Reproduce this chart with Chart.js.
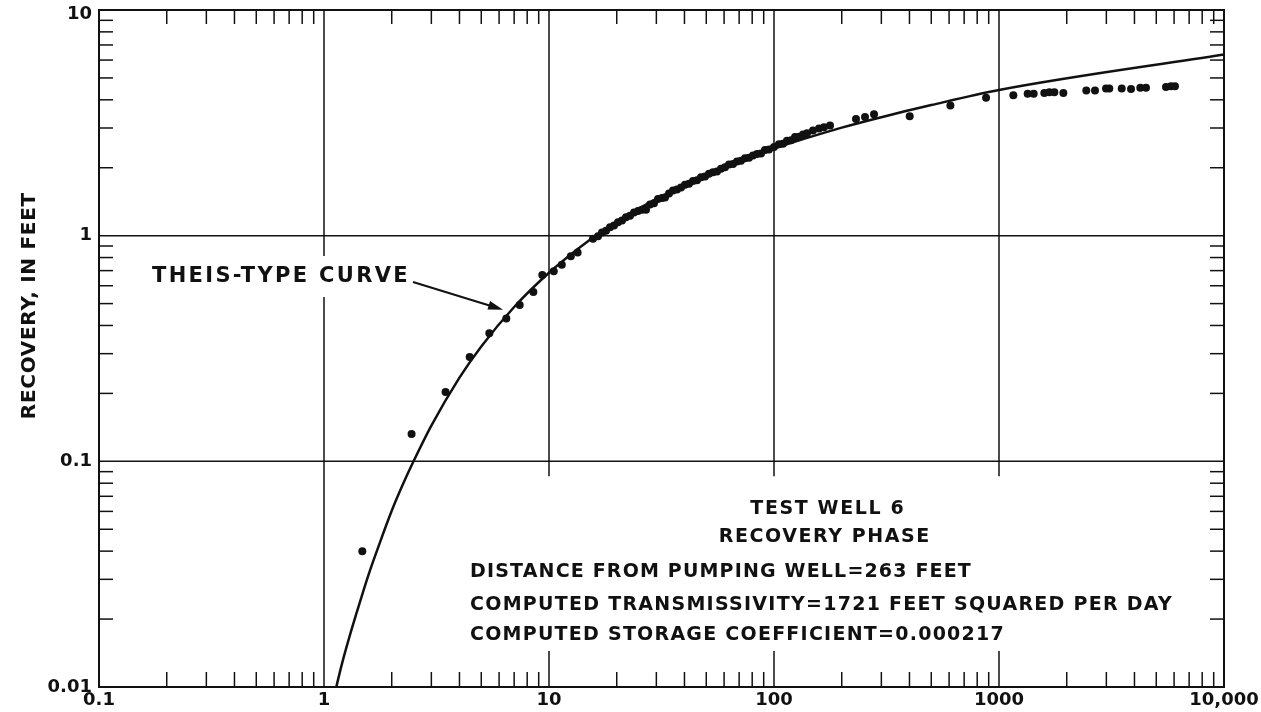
<!DOCTYPE html>
<html lang="en">
<head>
<meta charset="UTF-8">
<title>Test well 6 - recovery phase</title>
<style>
  html, body { margin: 0; padding: 0; background: #fff; }
  #chart { display: block; }
</style>
<script src="https://cdn.jsdelivr.net/npm/chart.js"></script>
</head>
<body>
<canvas id="chart" width="1261" height="712"></canvas>
<script>
// axis labels
const xTicks = [0.1, 1, 10, 100, 1000, 10000];
const xTickLabels = ['0.1', '1', '10', '100', '1000', '10,000'];
const yTicks = [0.01, 0.1, 1, 10];
const yTickLabels = ['0.01', '0.1', '1', '10'];

// Theis-type curve
const curveX = [1.1, 1.2, 1.3, 1.4, 1.5, 1.6, 1.75, 2.0, 2.25, 2.5, 3.0, 4.0, 5.0, 7.0, 10, 15, 20, 30, 50, 70, 100, 200, 300, 500, 1000, 10000];
const curveY = [0.0088, 0.0126, 0.0168, 0.0215, 0.0269, 0.0328, 0.0422, 0.0604, 0.0797, 0.100, 0.144, 0.235, 0.323, 0.483, 0.685, 0.95, 1.153, 1.455, 1.856, 2.13, 2.43, 3.01, 3.35, 3.79, 4.42, 6.35];

// measured recovery (time, recovery in feet)
const obsX = [1.48, 2.45, 3.47, 4.44, 5.43, 6.46, 7.41, 8.52, 9.34, 10.5, 11.4, 12.5, 13.4,
  15.69, 16.51, 17.20, 17.92, 18.67, 19.45, 20.26, 21.11, 21.99, 22.91, 23.87, 24.87, 25.90, 26.99,
  28.12, 29.29, 30.51, 31.78, 32.78, 34.15, 35.57, 37.06, 38.61, 40.22, 41.90, 43.65, 45.48, 47.37,
  49.35, 51.41, 53.56, 55.80, 58.13, 60.55, 63.10, 65.73, 68.47, 71.33, 74.31, 77.42, 80.65, 84.02,
  87.53, 91.20, 95.0, 100, 105.2, 109.6, 114.2, 119.0, 124.0, 129.2, 134.6, 140.2, 149.0, 158.5,
  166.8, 177.4, 231.4, 253.8, 278.3,
  401, 608, 876, 1158, 1341, 1426, 1590, 1673, 1762, 1932, 2443, 2671, 2990, 3092, 3511, 3862,
  4246, 4501, 5524, 5813, 6056];
const obsY = [0.040, 0.132, 0.203, 0.290, 0.369, 0.430, 0.493, 0.563, 0.670, 0.695, 0.743, 0.810, 0.843,
  0.969, 0.994, 1.033, 1.051, 1.090, 1.108, 1.148, 1.166, 1.208, 1.225, 1.268, 1.286, 1.302, 1.304,
  1.376, 1.392, 1.452, 1.468, 1.476, 1.538, 1.586, 1.602, 1.634, 1.683, 1.698, 1.748, 1.762, 1.813,
  1.827, 1.879, 1.912, 1.926, 1.978, 2.011, 2.065, 2.078, 2.133, 2.145, 2.201, 2.213, 2.268, 2.303,
  2.314, 2.395, 2.406, 2.474, 2.541, 2.552, 2.637, 2.647, 2.735, 2.745, 2.808, 2.843, 2.925, 2.981,
  3.026, 3.081, 3.289, 3.355, 3.453,
  3.38, 3.77, 4.08, 4.19, 4.25, 4.25, 4.29, 4.32, 4.32, 4.29, 4.40, 4.40, 4.49, 4.49, 4.49, 4.47,
  4.52, 4.52, 4.56, 4.59, 4.59];

const FONT = '"DejaVu Sans", "Liberation Sans", Arial, sans-serif';
const INK = '#111';

function seg(ctx, x1, y1, x2, y2) {
  ctx.beginPath(); ctx.moveTo(x1, y1); ctx.lineTo(x2, y2); ctx.stroke();
}

// bold text, spaced out to a given width when asked
function txt(ctx, s, x, y, size, align, width) {
  ctx.font = 'bold ' + size + 'px ' + FONT;
  ctx.letterSpacing = '0px';
  let ls = 0;
  if (width) {
    ls = (width - ctx.measureText(s).width) / s.length;
    ctx.letterSpacing = ls + 'px';
  }
  if (align === 'center') x += ls / 2;
  if (align === 'right') x += ls;
  ctx.textAlign = align;
  ctx.textBaseline = 'middle';
  ctx.fillText(s, x, y);
}

const paper = {
  id: 'paper',
  beforeDatasetsDraw(chart) {
    const { ctx, chartArea: a, scales: { x, y } } = chart;
    ctx.save();
    ctx.strokeStyle = INK;
    ctx.lineWidth = 1.5;

    // grid: horizontals full width, verticals stop above the note block
    [0.1, 1].forEach(v => { const py = y.getPixelForValue(v); seg(ctx, a.left, py, a.right, py); });
    seg(ctx, x.getPixelForValue(1), a.top, x.getPixelForValue(1), a.bottom);
    const cut = y.getPixelForValue(0.1) + 15;
    [10, 100, 1000].forEach(v => {
      const px = x.getPixelForValue(v);
      seg(ctx, px, a.top, px, cut);
      seg(ctx, px, a.bottom - 36, px, a.bottom);
    });

    // minor ticks, pointing in
    xTicks.slice(0, -1).forEach(d => {
      for (let m = 2; m <= 9; m++) {
        const px = x.getPixelForValue(d * m);
        seg(ctx, px, a.bottom, px, a.bottom - 15);
        seg(ctx, px, a.top, px, a.top + 14);
      }
    });
    yTicks.slice(0, -1).forEach(d => {
      for (let m = 2; m <= 9; m++) {
        const py = y.getPixelForValue(d * m);
        seg(ctx, a.left, py, a.left + 14, py);
        seg(ctx, a.right, py, a.right - 14, py);
      }
    });

    ctx.lineWidth = 2;
    ctx.strokeRect(a.left, a.top, a.right - a.left, a.bottom - a.top);
    ctx.restore();
  },
  afterDraw(chart) {
    const { ctx, chartArea: a, scales: { x, y } } = chart;
    ctx.save();
    ctx.fillStyle = INK;
    ctx.strokeStyle = INK;

    xTicks.forEach((v, i) => txt(ctx, xTickLabels[i], x.getPixelForValue(v), a.bottom + 13, 18, 'center'));
    yTicks.forEach((v, i) => txt(ctx, yTickLabels[i], a.left - 7, y.getPixelForValue(v) + (i === 3 ? 4 : 0), 18, 'right'));

    // y axis title
    ctx.save();
    ctx.translate(30, 306);
    ctx.rotate(-Math.PI / 2);
    txt(ctx, 'RECOVERY, IN FEET', 0, 0, 20, 'center', 227);
    ctx.restore();

    // curve label with arrow
    ctx.fillStyle = '#fff';
    ctx.fillRect(146, 256, 264, 41);
    ctx.fillStyle = INK;
    txt(ctx, 'THEIS-TYPE CURVE', 152, 277, 21, 'left', 258);
    const tx = x.getPixelForValue(6.25), ty = y.getPixelForValue(0.47);
    const sx = 413, sy = 282;
    const ang = Math.atan2(ty - sy, tx - sx);
    ctx.lineWidth = 2;
    seg(ctx, sx, sy, tx - 10 * Math.cos(ang), ty - 10 * Math.sin(ang));
    ctx.beginPath();
    ctx.moveTo(tx, ty);
    ctx.lineTo(tx - 15 * Math.cos(ang) + 4.5 * Math.sin(ang), ty - 15 * Math.sin(ang) - 4.5 * Math.cos(ang));
    ctx.lineTo(tx - 15 * Math.cos(ang) - 4.5 * Math.sin(ang), ty - 15 * Math.sin(ang) + 4.5 * Math.cos(ang));
    ctx.closePath();
    ctx.fill();

    // note block
    txt(ctx, 'TEST WELL 6', 827, 509, 19, 'center', 155);
    txt(ctx, 'RECOVERY PHASE', 824, 537, 19, 'center', 212);
    txt(ctx, 'DISTANCE FROM PUMPING WELL=263 FEET', 470, 572, 19, 'left', 502);
    txt(ctx, 'COMPUTED TRANSMISSIVITY=1721 FEET SQUARED PER DAY', 470, 605, 19, 'left', 703);
    txt(ctx, 'COMPUTED STORAGE COEFFICIENT=0.000217', 470, 635, 19, 'left', 535);
    ctx.restore();
  }
};

new Chart(document.getElementById('chart'), {
  type: 'scatter',
  data: {
    datasets: [
      {
        label: 'Theis-type curve',
        data: curveX.map((v, i) => ({ x: v, y: curveY[i] })),
        showLine: true,
        borderColor: INK,
        borderWidth: 2.5,
        pointRadius: 0,
        cubicInterpolationMode: 'monotone',
        order: 2
      },
      {
        label: 'Recovery',
        data: obsX.map((v, i) => ({ x: v, y: obsY[i] })),
        pointRadius: 4,
        pointBackgroundColor: INK,
        pointBorderWidth: 0,
        order: 1
      }
    ]
  },
  options: {
    responsive: false,
    animation: false,
    events: [],
    layout: { padding: { left: 99, right: 37, top: 10, bottom: 25 } },
    scales: {
      x: { type: 'logarithmic', min: 0.1, max: 10000, display: false },
      y: { type: 'logarithmic', min: 0.01, max: 10, display: false }
    },
    plugins: { legend: { display: false }, tooltip: { enabled: false } }
  },
  plugins: [paper]
});
</script>
</body>
</html>
